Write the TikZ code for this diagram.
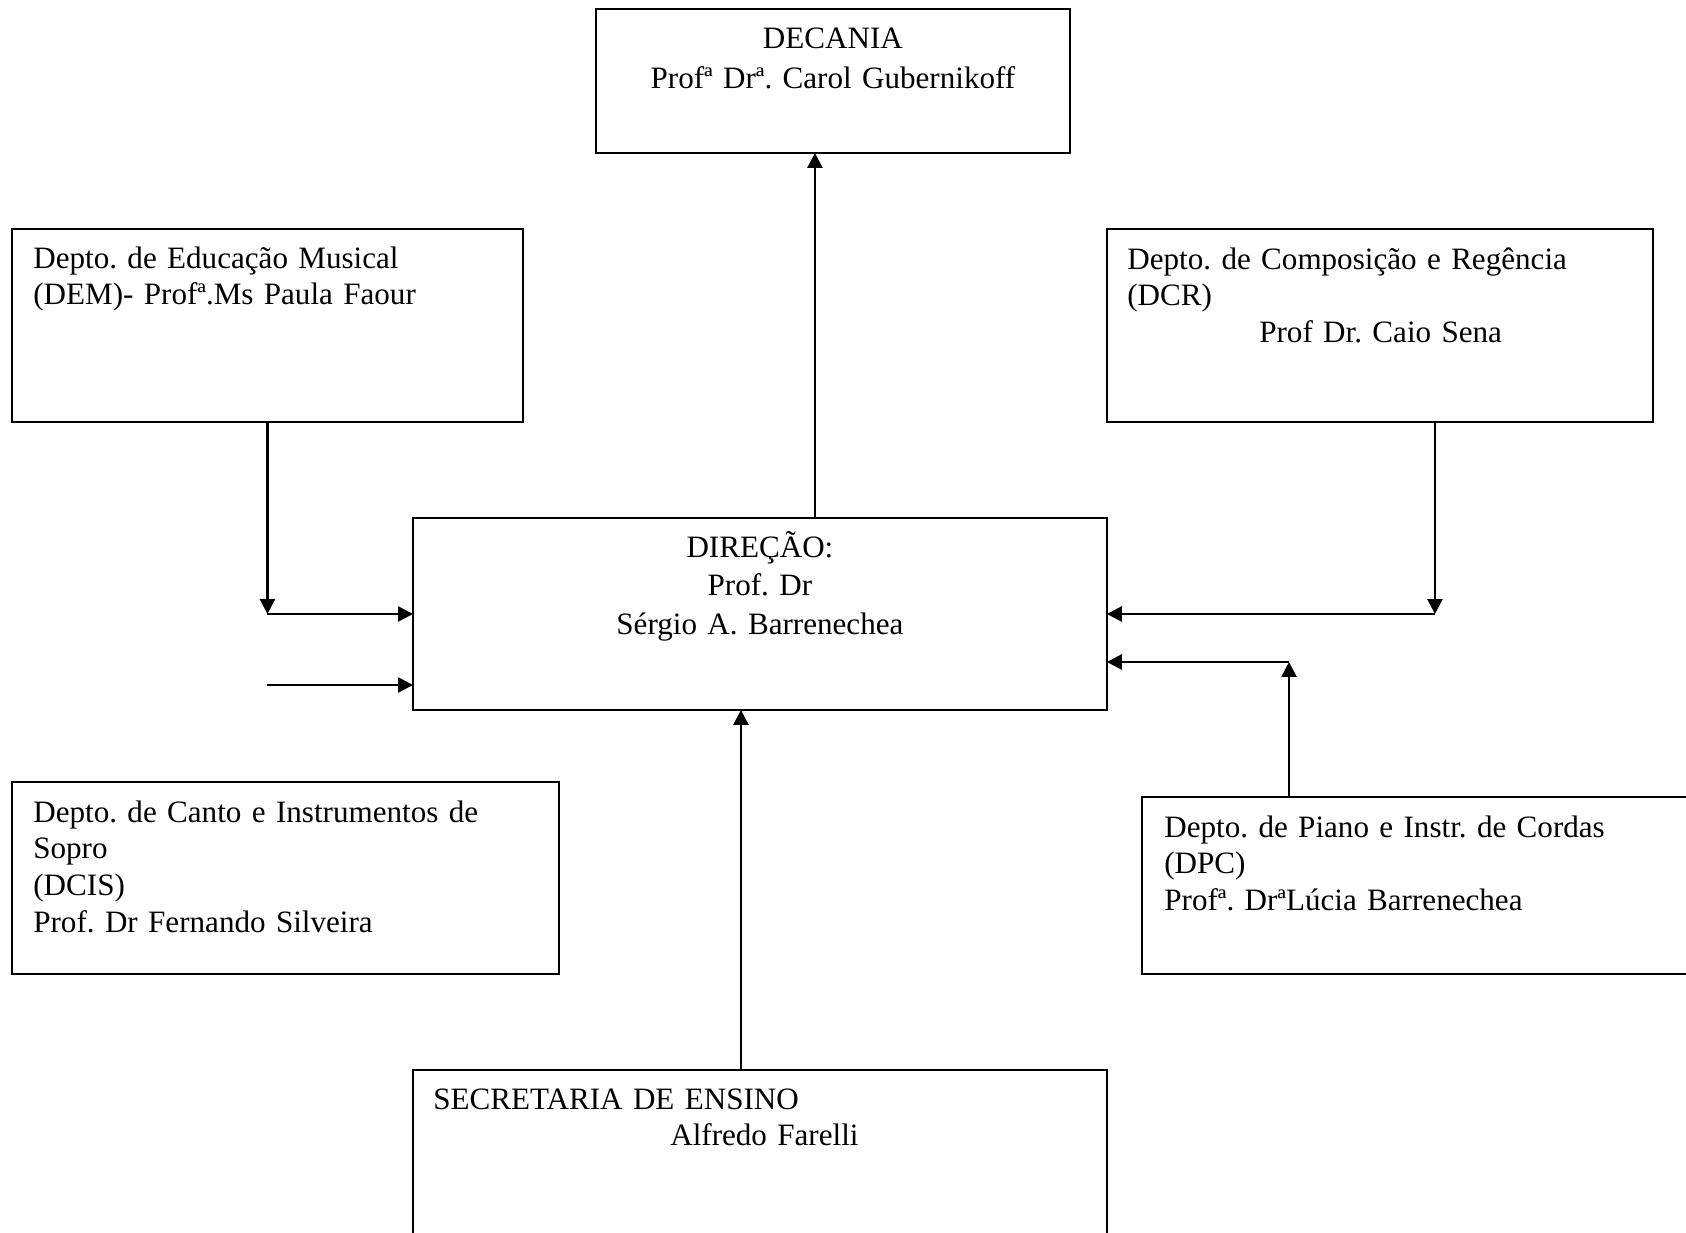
\documentclass[tikz,border=0pt]{standalone}
\usepackage{fontspec}
\setmainfont{Liberation Serif}
\usetikzlibrary{arrows.meta,calc}
\frenchspacing

\begin{document}
\begin{tikzpicture}[x=0.02cm,y=-0.02cm,
    caixa/.style={draw,line width=1.1pt,inner sep=0pt,outer sep=0pt,anchor=north west},
    texto/.style={inner sep=0pt,font=\fontsize{17.7}{21}\selectfont,text width=12cm,align=left,anchor=base west},
    centrado/.style={texto,align=center,anchor=base},
    seta/.style={line width=1.5pt,-{Triangle[length=0.3cm,width=0.3cm]}}]
\useasboundingbox (0,0) rectangle (1686,1232);
\clip (0,0) rectangle (1686,1232);

\node[caixa,minimum width=9.48cm,minimum height=2.88cm] (dec) at (596,9) {};
\node[caixa,minimum width=10.22cm,minimum height=3.86cm] (dem) at (12,229) {};
\node[caixa,minimum width=10.92cm,minimum height=3.86cm] (dcr) at (1107,229) {};
\node[caixa,minimum width=13.88cm,minimum height=3.84cm] (dir) at (413,518) {};
\node[caixa,minimum width=10.94cm,minimum height=3.84cm] (dcis) at (12,782) {};
\node[caixa,minimum width=12cm,minimum height=3.54cm] (dpc) at (1142,797) {};
\node[caixa,minimum width=13.88cm,minimum height=4cm] (sec) at (413,1070) {};

\node[centrado] (dectxt) at ([shift={(0,39)}]dec.north) {DECANIA\\[2pt]Profª Drª. Carol Gubernikoff};
\node[texto] (demtxt) at ([shift={(21,39)}]dem.north west) {Depto. de Educação Musical\\(DEM)- Profª.Ms Paula Faour};
\node[texto] (dcrtxt) at ([shift={(20,40)}]dcr.north west) {Depto. de Composição e Regência\\(DCR)\\\hspace*{2.64cm}Prof Dr. Caio Sena};
\node[centrado] (dirtxt) at ([shift={(0,39)}]dir.north) {DIREÇÃO:\\[1pt]Prof. Dr\\[1pt]Sérgio A. Barrenechea};
\node[texto] (dcistxt) at ([shift={(21,40)}]dcis.north west) {Depto. de Canto e Instrumentos de\\Sopro\\(DCIS)\\Prof. Dr Fernando Silveira};
\node[texto] (dpctxt) at ([shift={(22,40)}]dpc.north west) {Depto. de Piano e Instr. de Cordas\\(DPC)\\Profª. DrªLúcia Barrenechea};
\node[texto] (sectxt) at ([shift={(20,39)}]sec.north west) {SECRETARIA DE ENSINO\\\hspace*{4.74cm}Alfredo Farelli};

\coordinate (decin) at ([shift={(55,0)}]dir.north);
\draw[seta] (decin) -- (decin |- dec.south);

\coordinate (demturn) at (dem.south |- dir.west);
\draw[seta] (dem.south) -- (demturn);
\draw[seta] (demturn) -- (dir.west);
\coordinate (dcisin) at ([shift={(0,71)}]demturn);
\draw[seta] (dcisin) -- (dcisin -| dir.west);

\coordinate (dcrout) at ([shift={(55,0)}]dcr.south);
\coordinate (dcrturn) at (dcrout |- dir.east);
\draw[seta] (dcrout) -- (dcrturn);
\draw[seta] (dcrturn) -- (dir.east);

\coordinate (dpcout) at ([shift={(147,0)}]dpc.north west);
\coordinate (dpcin) at ([shift={(0,48)}]dir.east);
\draw[seta] (dpcout) -- (dpcout |- dpcin);
\draw[seta] (dpcout |- dpcin) -- (dpcin);

\coordinate (secout) at ([shift={(-19,0)}]sec.north);
\draw[seta] (secout) -- (secout |- dir.south);
\end{tikzpicture}
\end{document}
